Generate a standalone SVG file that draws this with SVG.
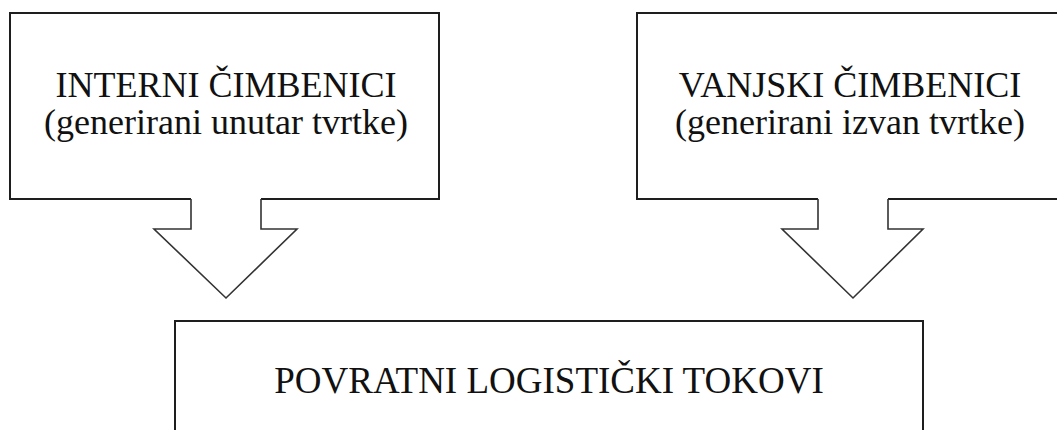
<svg xmlns="http://www.w3.org/2000/svg" width="1057" height="430" viewBox="0 0 1057 430">
  <style>
    .shape { fill: #ffffff; stroke: #1e1e1e; stroke-width: 2; stroke-linejoin: miter; }
    .arrow { fill: #ffffff; stroke: #333333; stroke-width: 1.6; stroke-linejoin: miter; }
    .label { font-family: "Liberation Serif", "Times New Roman", Times, serif; fill: #111111; text-anchor: middle; }
  </style>
  <rect x="0" y="0" width="1057" height="430" fill="#ffffff"/>
  <g id="node-interni">
    <path class="shape" d="M191,199 H10 V13 H439 V199 H261"/>
    <text class="label" x="226" y="97" font-size="36">INTERNI ČIMBENICI</text>
    <text class="label" x="226" y="134" font-size="36">(generirani unutar tvrtke)</text>
  </g>
  <g id="node-vanjski">
    <path class="shape" d="M818,199 H637 V13 H1070 V199 H888"/>
    <text class="label" x="850" y="97" font-size="36">VANJSKI ČIMBENICI</text>
    <text class="label" x="850" y="134" font-size="36">(generirani izvan tvrtke)</text>
  </g>
  <g id="node-povratni">
    <path class="shape" d="M175,445 V321 H923 V445"/>
    <text class="label" x="549" y="393" font-size="37">POVRATNI LOGISTIČKI TOKOVI</text>
  </g>
  <g id="connectors">
    <path class="arrow" d="M191,199 V229 H154 L226,298 L297,229 H261 V199"/>
    <path class="arrow" d="M818,199 V229 H782 L853,298 L923,229 H888 V199"/>
  </g>
</svg>
